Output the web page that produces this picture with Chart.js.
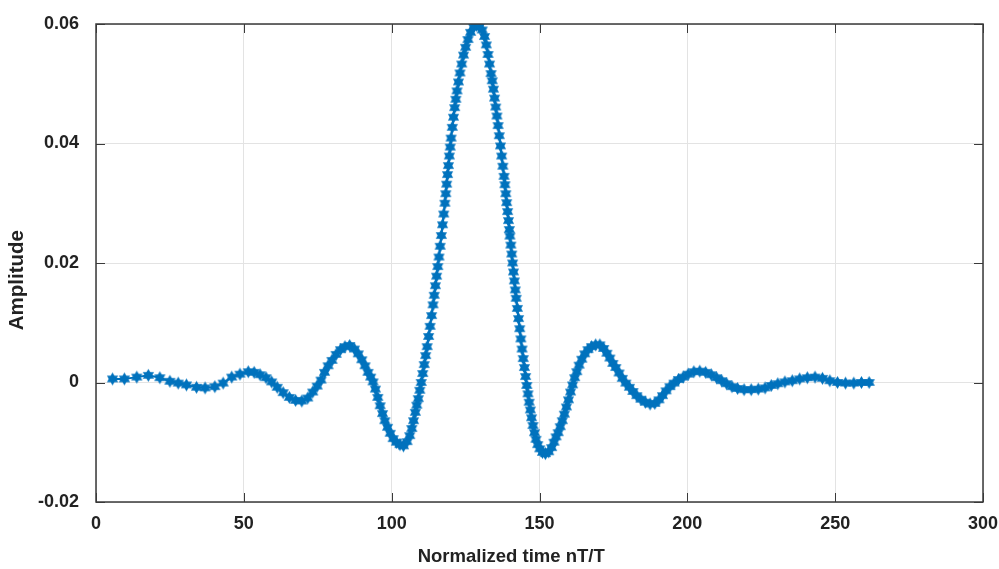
<!DOCTYPE html>
<html>
<head>
<meta charset="utf-8">
<script src="https://cdn.jsdelivr.net/npm/chart.js@4.4.1/dist/chart.umd.min.js"></script>
<style>
  html, body { margin: 0; padding: 0; background: #fff; }
  #wrap { width: 999px; height: 569px; }
</style>
</head>
<body>
<div id="wrap"><canvas id="pulseChart" width="999" height="569"></canvas></div>
<script>
    // samples of the received pulse (time, amplitude)
    const timeValues = [
        5.6, 9.6, 13.8, 17.7, 21.6, 25.0, 27.8, 30.6, 34.0, 36.9, 40.2, 43.0, 45.9, 48.7, 51.5, 53.5, 55.5, 57.5, 59.4,
        61.3, 63.3, 65.4, 67.5, 69.6, 71.6, 73.3, 74.8, 76.1, 77.3, 78.5, 79.8, 81.2, 82.7, 84.2, 85.8, 87.4, 88.7, 89.9,
        91.0, 92.0, 92.9, 93.7, 94.5, 95.3, 96.1, 96.9, 97.7, 98.6, 99.5, 100.5, 101.6, 102.8, 104.0, 105.2, 106.1, 106.8,
        107.4, 108.0, 108.5, 109.0, 109.5, 110.0, 110.5, 111.0, 111.5, 112.0, 112.5, 113.0, 113.5, 114.0, 114.4, 114.8,
        115.2, 115.6, 116.0, 116.4, 116.8, 117.2, 117.6, 118.0, 118.3, 118.6, 118.9, 119.2, 119.5, 119.8, 120.1, 120.5,
        120.9, 121.3, 121.7, 122.1, 122.6, 123.1, 123.7, 124.3, 125.0, 125.8, 126.7, 127.7, 128.7, 129.7, 130.6, 131.4,
        132.0, 132.6, 133.1, 133.6, 134.0, 134.4, 134.8, 135.2, 135.6, 136.0, 136.4, 136.8, 137.2, 137.6, 138.0, 138.3,
        138.6, 138.9, 139.2, 139.5, 139.8, 140.0, 140.3, 140.6, 140.9, 141.2, 141.5, 141.8, 142.1, 142.5, 142.9, 143.3,
        143.7, 144.1, 144.5, 144.9, 145.3, 145.7, 146.1, 146.5, 146.9, 147.3, 147.8, 148.3, 148.8, 149.4, 150.1, 151.0,
        152.0, 153.1, 154.1, 154.9, 155.6, 156.3, 157.0, 157.7, 158.4, 159.1, 159.8, 160.5, 161.2, 161.9, 162.6, 163.4,
        164.3, 165.3, 166.4, 167.6, 169.0, 170.4, 171.7, 172.8, 173.8, 174.8, 175.8, 176.9, 178.0, 179.2, 180.4, 181.6,
        182.9, 184.3, 185.8, 187.4, 189.0, 190.4, 191.6, 192.8, 194.1, 195.5, 197.0, 198.6, 200.3, 202.2, 204.2, 206.2,
        208.1, 209.9, 211.6, 213.3, 215.1, 217.0, 219.2, 221.6, 224.0, 226.3, 228.4, 230.6, 233.0, 235.5, 238.0, 240.6,
        243.2, 245.7, 248.2, 250.8, 253.5, 256.3, 258.9, 261.5
    ];
    const amplitudeValues = [
        0.0006, 0.0006, 0.0009, 0.0012, 0.0008, 0.0002, -0.0001, -0.0004, -0.0008, -0.0009, -0.0007, -0.0001, 0.0009, 0.0014, 0.0018, 0.0017, 0.0013, 0.0008, 0.0001,
        -0.0008, -0.0017, -0.0025, -0.0030, -0.0031, -0.0026, -0.0016, -0.0006, 0.0004, 0.0017, 0.0028, 0.0037, 0.0047, 0.0055, 0.0060, 0.0062, 0.0056, 0.0048, 0.0038,
        0.0028, 0.0017, 0.0009, 0.0001, -0.0011, -0.0025, -0.0039, -0.0052, -0.0064, -0.0075, -0.0085, -0.0094, -0.0100, -0.0104, -0.0106, -0.0099, -0.0089, -0.0077,
        -0.0064, -0.0050, -0.0038, -0.0027, -0.0013, 0.0000, 0.0015, 0.0030, 0.0045, 0.0060, 0.0077, 0.0094, 0.0112, 0.0130, 0.0146, 0.0162,
        0.0178, 0.0194, 0.0210, 0.0228, 0.0246, 0.0264, 0.0282, 0.0300, 0.0316, 0.0332, 0.0348, 0.0363, 0.0379, 0.0394, 0.0409, 0.0427,
        0.0444, 0.0460, 0.0474, 0.0488, 0.0503, 0.0518, 0.0533, 0.0548, 0.0561, 0.0574, 0.0586, 0.0595, 0.0598, 0.0596, 0.0590, 0.0579,
        0.0565, 0.0549, 0.0533, 0.0517, 0.0505, 0.0491, 0.0476, 0.0461, 0.0446, 0.0430, 0.0413, 0.0396, 0.0379, 0.0362, 0.0345, 0.0331,
        0.0316, 0.0301, 0.0286, 0.0271, 0.0256, 0.0245, 0.0230, 0.0215, 0.0200, 0.0185, 0.0170, 0.0155, 0.0141, 0.0124, 0.0107, 0.0090,
        0.0073, 0.0056, 0.0040, 0.0025, 0.0010, -0.0005, -0.0019, -0.0033, -0.0046, -0.0059, -0.0072, -0.0084, -0.0095, -0.0104, -0.0111, -0.0117,
        -0.0119, -0.0116, -0.0109, -0.0100, -0.0091, -0.0084, -0.0074, -0.0064, -0.0053, -0.0041, -0.0029, -0.0016, -0.0004, 0.0008, 0.0018, 0.0029,
        0.0039, 0.0048, 0.0055, 0.0060, 0.0063, 0.0063, 0.0057, 0.0049, 0.0041, 0.0032, 0.0025, 0.0016, 0.0007, -0.0001, -0.0008, -0.0015,
        -0.0022, -0.0028, -0.0033, -0.0036, -0.0035, -0.0029, -0.0022, -0.0014, -0.0007, -0.0001, 0.0005, 0.0009, 0.0014, 0.0018, 0.0019, 0.0017,
        0.0013, 0.0008, 0.0003, -0.0002, -0.0007, -0.0010, -0.0012, -0.0012, -0.0011, -0.0009, -0.0005, -0.0002, 0.0001, 0.0003, 0.0006, 0.0008,
        0.0009, 0.0007, 0.0003, 0.0000, -0.0001, -0.0001, 0.0000, 0.0000
    ];

    const xTicks = [0, 50, 100, 150, 200, 250, 300];
    const yTicks = [-0.02, 0, 0.02, 0.04, 0.06];
    const yTickLabels = ['-0.02', '0', '0.02', '0.04', '0.06'];

    const lineBlue = '#0072BD';
    const axisColor = '#3a3a3a';
    const labelFont = "'Liberation Sans', Arial, sans-serif";

    // filled six-pointed star used as the marker
    function makeStar(r) {
        const c = document.createElement('canvas');
        const s = Math.ceil(r * 2 + 2);
        c.width = s; c.height = s;
        const g = c.getContext('2d');
        g.fillStyle = lineBlue;
        const cx = s / 2, cy = s / 2;
        [-Math.PI / 2, Math.PI / 2].forEach(a0 => {
            g.beginPath();
            for (let k = 0; k < 3; k++) {
                const a = a0 + k * 2 * Math.PI / 3;
                const px = cx + r * Math.cos(a), py = cy + r * Math.sin(a);
                if (k === 0) g.moveTo(px, py); else g.lineTo(px, py);
            }
            g.closePath();
            g.fill();
        });
        return c;
    }

    // box around the plot plus inward tick marks on all four sides
    const boxPlugin = {
        id: 'boxTicks',
        afterDraw(chart) {
            const { ctx, chartArea: a, scales } = chart;
            const len = 9;
            ctx.save();
            ctx.strokeStyle = axisColor;
            ctx.lineWidth = 1;
            xTicks.forEach(v => {
                const px = Math.round(scales.x.getPixelForValue(v)) + 0.5;
                ctx.beginPath();
                ctx.moveTo(px, a.bottom); ctx.lineTo(px, a.bottom - len);
                ctx.moveTo(px, a.top); ctx.lineTo(px, a.top + len);
                ctx.stroke();
            });
            yTicks.forEach(v => {
                const py = Math.round(scales.y.getPixelForValue(v)) + 0.5;
                ctx.beginPath();
                ctx.moveTo(a.left, py); ctx.lineTo(a.left + len, py);
                ctx.moveTo(a.right, py); ctx.lineTo(a.right - len, py);
                ctx.stroke();
            });
            ctx.lineWidth = 1.5;
            ctx.strokeRect(a.left, a.top, a.right - a.left, a.bottom - a.top);
            ctx.restore();
        }
    };

    const ctx = document.getElementById('pulseChart').getContext('2d');
    const chart = new Chart(ctx, {
        type: 'scatter',
        data: {
            datasets: [{
                data: timeValues.map((t, i) => ({ x: t, y: amplitudeValues[i] })),
                showLine: true,
                borderColor: lineBlue,
                borderWidth: 2,
                pointStyle: makeStar(6.5),
                pointRadius: 6,
                tension: 0
            }]
        },
        options: {
            responsive: false,
            animation: false,
            layout: { padding: { left: 0, right: 16, top: 24, bottom: 0 } },
            plugins: { legend: { display: false }, tooltip: { enabled: false } },
            scales: {
                x: {
                    type: 'linear',
                    min: 0, max: 300,
                    afterBuildTicks: s => { s.ticks = xTicks.map(v => ({ value: v })); },
                    afterFit: s => { s.height = 67; s.paddingLeft = 0; s.paddingRight = 0; },
                    grid: { color: '#e3e3e3', drawTicks: false },
                    border: { display: false },
                    ticks: {
                        padding: 11,
                        color: '#222',
                        font: { family: labelFont, size: 18, weight: 'bold' },
                        callback: v => String(v)
                    },
                    title: {
                        display: true,
                        text: 'Normalized time nT/T           ',
                        color: '#222',
                        padding: { top: 0, bottom: 1 },
                        font: { family: labelFont, size: 18.5, weight: 'bold' }
                    }
                },
                y: {
                    min: -0.02, max: 0.06,
                    afterBuildTicks: s => { s.ticks = yTicks.map(v => ({ value: v })); },
                    afterFit: s => { s.width = 96; s.paddingTop = 0; s.paddingBottom = 0; },
                    grid: { color: '#e3e3e3', drawTicks: false },
                    border: { display: false },
                    ticks: {
                        padding: 17,
                        color: '#222',
                        font: { family: labelFont, size: 18, weight: 'bold' },
                        callback: v => yTickLabels[yTicks.findIndex(t => Math.abs(t - v) < 1e-9)]
                    },
                    title: {
                        display: true,
                        text: 'Amplitude      ',
                        color: '#222',
                        padding: { top: 5, bottom: 0 },
                        font: { family: labelFont, size: 20.5, weight: 'bold' }
                    }
                }
            }
        },
        plugins: [boxPlugin]
    });
</script>
</body>
</html>
